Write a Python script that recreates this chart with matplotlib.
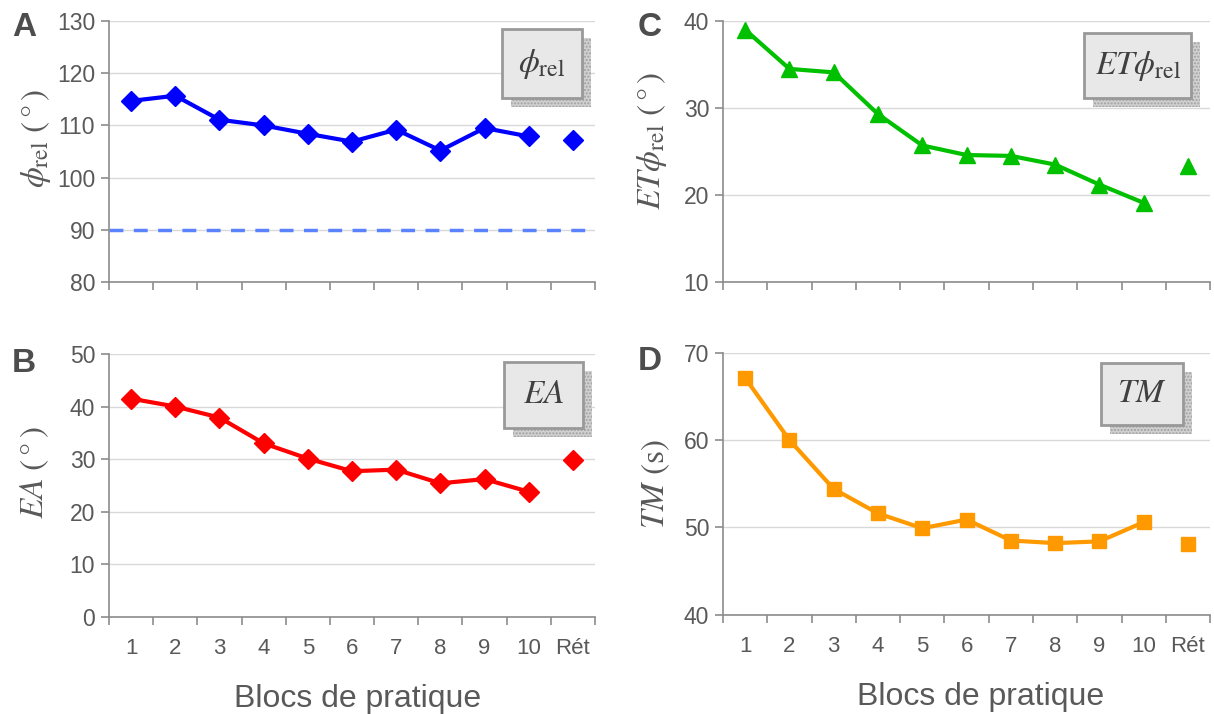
import numpy as np
import matplotlib
matplotlib.use("Agg")
import matplotlib.pyplot as plt
from matplotlib.patches import Rectangle

plt.rcParams['font.family'] = ['Liberation Sans', 'DejaVu Sans']
plt.rcParams['mathtext.fontset'] = 'stix'

# data
blocks = ['1', '2', '3', '4', '5', '6', '7', '8', '9', '10', 'Rét']
phi_rel = [114.7, 115.7, 111.1, 110.0, 108.4, 106.9, 109.2, 105.2, 109.5, 107.9]
phi_rel_ret = 107.2
ea = [41.5, 40.0, 37.9, 33.0, 30.1, 27.7, 28.0, 25.4, 26.2, 23.8]
ea_ret = 29.8
et_phi = [39.0, 34.5, 34.1, 29.3, 25.7, 24.6, 24.5, 23.5, 21.2, 19.1]
et_phi_ret = 23.3
tm = [67.1, 60.0, 54.4, 51.6, 49.9, 50.9, 48.5, 48.2, 48.4, 50.6]
tm_ret = 48.1
phi_ref = 90

grey = '#595959'
fig = plt.figure(figsize=(12.14, 7.14), dpi=100)

ax_a = fig.add_axes([0.0898, 0.605, 0.4003, 0.3655])
ax_b = fig.add_axes([0.0898, 0.136, 0.4003, 0.3683])
ax_c = fig.add_axes([0.5956, 0.605, 0.4012, 0.3655])
ax_d = fig.add_axes([0.5956, 0.139, 0.4012, 0.367])

x = np.arange(len(blocks))


def style(ax, ylim, step, ylabel, xlab_x, lx, ly):
    ax.set_xlim(-0.5, len(blocks) - 0.5)
    ax.set_ylim(*ylim)
    ax.set_yticks(np.arange(ylim[0], ylim[1] + 0.1, step))
    ax.yaxis.grid(True, color='#d9d9d9', lw=1)
    ax.set_axisbelow(True)
    for s in ['top', 'right']:
        ax.spines[s].set_visible(False)
    for s in ['left', 'bottom']:
        ax.spines[s].set_color('#8c8c8c')
        ax.spines[s].set_linewidth(1.2)
    ax.tick_params(axis='y', colors='#8c8c8c', labelcolor=grey, labelsize=16.5,
                   length=6, width=1.2, pad=4)
    ax.set_xticks(x)
    ax.set_xticks(np.arange(-0.5, len(blocks), 1.0), minor=True)
    ax.tick_params(axis='x', which='major', length=0, pad=15, labelsize=16,
                   labelcolor=grey)
    ax.tick_params(axis='x', which='minor', length=6, width=1.2, colors='#8c8c8c')
    if xlab_x is not None:
        ax.set_xticklabels(blocks)
        ax.set_xlabel('Blocs de pratique', fontsize=23, color=grey)
        ax.xaxis.set_label_coords(xlab_x, -0.255)
    else:
        ax.set_xticklabels([])
    ax.set_ylabel(ylabel, fontsize=24, color=grey, family='STIXGeneral')
    ax.yaxis.set_label_coords(lx, ly)


def box(ax, x0, y0, x1, y1, label):
    dx, dy = 9 / ax.bbox.width, 9 / ax.bbox.height
    sh = Rectangle((x0 + dx, y0 - dy), x1 - x0, y1 - y0, transform=ax.transAxes,
                   facecolor='#d0d0d0', edgecolor='#a0a0a0', hatch='.....',
                   lw=0, clip_on=False, zorder=5)
    bx = Rectangle((x0, y0), x1 - x0, y1 - y0, transform=ax.transAxes,
                   facecolor='#e8e8e8', edgecolor='#999999', lw=2,
                   clip_on=False, zorder=6)
    ax.add_patch(sh)
    ax.add_patch(bx)
    ax.text((x0 + x1) / 2, (y0 + y1) / 2, label, transform=ax.transAxes,
            ha='center', va='center', fontsize=24, color='#404040', zorder=7)


deg = r'$\ \mathrm{(\,°\,)}$'

# A
ax_a.plot(x[:-1], phi_rel, color='#0000ff', lw=3, marker='D', ms=10)
ax_a.plot(x[-1], phi_rel_ret, color='#0000ff', marker='D', ms=10, ls='none')
ax_a.axhline(phi_ref, color='#5b82ff', lw=2.5, ls=(0, (4, 3)))
style(ax_a, (80, 130), 10, r'$\phi_{\mathrm{rel}}$' + deg, None, -0.115, 0.55)
box(ax_a, 0.809, 0.705, 0.973, 0.969, r'$\phi_{\mathrm{rel}}$')

# B
ax_b.plot(x[:-1], ea, color='#ff0000', lw=3, marker='D', ms=10)
ax_b.plot(x[-1], ea_ret, color='#ff0000', marker='D', ms=10, ls='none')
style(ax_b, (0, 50), 10, r'$EA$' + deg, 0.512, -0.12, 0.55)
box(ax_b, 0.813, 0.719, 0.975, 0.970, r'$EA$')

# C
ax_c.plot(x[:-1], et_phi, color='#00c000', lw=3, marker='^', ms=12)
ax_c.plot(x[-1], et_phi_ret, color='#00c000', marker='^', ms=12, ls='none')
style(ax_c, (10, 40), 10, r'$ET\phi_{\mathrm{rel}}$' + deg, None, -0.11, 0.54)
box(ax_c, 0.741, 0.705, 0.961, 0.954, r'$ET\phi_{\mathrm{rel}}$')

# D
ax_d.plot(x[:-1], tm, color='#ff9900', lw=3, marker='s', ms=10)
ax_d.plot(x[-1], tm_ret, color='#ff9900', marker='s', ms=10, ls='none')
style(ax_d, (40, 70), 10, r'$TM$ (s)', 0.528, -0.105, 0.5)
box(ax_d, 0.776, 0.725, 0.945, 0.962, r'$TM$')

for lbl, px, py in [('A', 12, 36), ('B', 12, 372), ('C', 638, 36), ('D', 638, 370)]:
    fig.text(px / 1214, 1 - py / 714, lbl, fontsize=24, fontweight='bold',
             color='#4d4d4d', ha='left', va='baseline')

fig.savefig('out.png', dpi=100)
